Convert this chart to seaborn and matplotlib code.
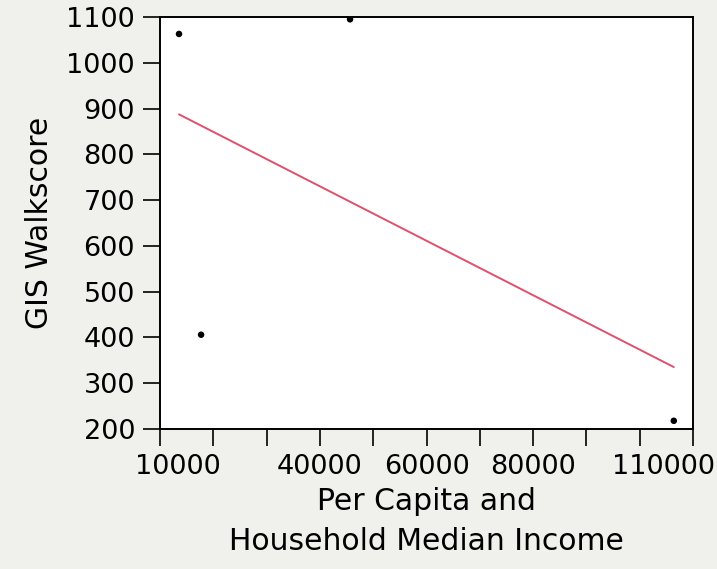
import numpy as np
import pandas as pd
import matplotlib
matplotlib.use("Agg")
import matplotlib.pyplot as plt
import matplotlib.transforms as mtransforms
import seaborn as sns

# Values
income = [13560, 17700, 45650, 106400]
walkscore = [1063, 406, 1095, 218]

x_ticks = list(range(10000, 110001, 10000))
x_labels = ["10000", "", "", "40000", "", "60000", "", "80000", "", "", "110000"]
y_ticks = list(range(200, 1101, 100))

df = pd.DataFrame({"income": income, "walkscore": walkscore})

sns.set_style("ticks")
plt.rcParams["font.family"] = ["DejaVu Sans"]

bg = "#f0f0ec"
fig = plt.figure(figsize=(7.17, 5.69), dpi=100, facecolor=bg)
ax = fig.add_axes([0.2232, 0.2460, 0.9665 - 0.2232, 0.9701 - 0.2460])
ax.set_facecolor("white")

# fitted line
sns.regplot(data=df, x="income", y="walkscore", scatter=False, ci=None,
            truncate=True, color="#e0506c", line_kws={"linewidth": 1.4}, ax=ax)
# points
sns.scatterplot(data=df, x="income", y="walkscore", color="black", s=22,
                edgecolor="none", ax=ax, zorder=3)

ax.set_xlim(10000, 110000)
ax.set_ylim(200, 1100)
ax.set_xticks(x_ticks)
ax.set_xticklabels(x_labels)
ax.set_yticks(y_ticks)
ax.set_yticklabels([str(v) for v in y_ticks])

for s in ax.spines.values():
    s.set_visible(True)
    s.set_color("black")
    s.set_linewidth(1.4)

ax.tick_params(axis="both", direction="out", length=12, width=1.2,
               colors="black", labelsize=19.5)
ax.tick_params(axis="y", pad=6)
ax.tick_params(axis="x", pad=6)

# end labels are nudged inward like the original
labels = ax.get_xticklabels()
labels[0].set_transform(labels[0].get_transform() +
                        mtransforms.ScaledTranslation(18 / 100, 0, fig.dpi_scale_trans))
labels[-1].set_transform(labels[-1].get_transform() +
                         mtransforms.ScaledTranslation(-29 / 100, 0, fig.dpi_scale_trans))

ax.set_xlabel("Per Capita and\nHousehold Median Income", fontsize=21.5,
              color="black", linespacing=1.5, labelpad=5)
ax.set_ylabel("GIS Walkscore", fontsize=21.5, color="black", labelpad=9)

fig.savefig("out.png", dpi=100, facecolor=bg)
